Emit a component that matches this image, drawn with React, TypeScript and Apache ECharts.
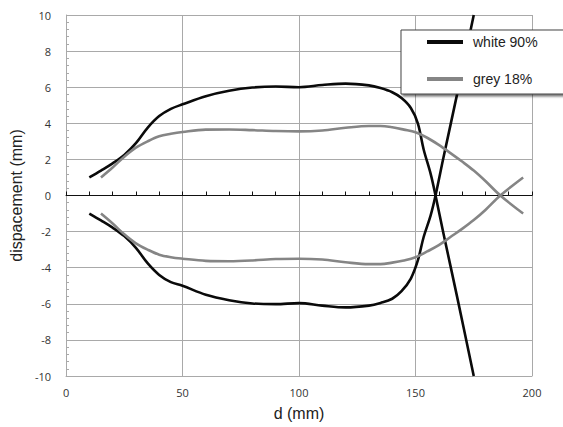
import React, { useEffect, useRef } from "react";
import * as echarts from "echarts";

const xTicks = [0, 50, 100, 150, 200];
const yRange = [-10, 10];

// white 90% — upper branch (crosses zero and continues down)
const whiteUpperX = [10, 15, 20, 25, 30, 35, 40, 45, 50, 60, 70, 80, 90, 100, 110, 120, 130, 135, 140, 144, 148, 151, 153.5, 156.5, 158.6, 162, 168, 175];
const whiteUpperY = [1.0, 1.38, 1.78, 2.25, 2.9, 3.75, 4.4, 4.8, 5.05, 5.5, 5.8, 5.98, 6.04, 6.0, 6.12, 6.2, 6.1, 5.95, 5.72, 5.4, 4.85, 4.0, 2.55, 1.2, 0, -2.1, -5.7, -10];
// white 90% — lower branch
const whiteLowerX = [10, 15, 20, 25, 30, 35, 40, 45, 50, 60, 70, 80, 90, 100, 110, 120, 130, 135, 140, 144, 148, 151, 153.5, 156.5, 158.6, 162, 168, 175];
const whiteLowerY = [-1.0, -1.38, -1.78, -2.25, -2.9, -3.75, -4.4, -4.8, -5.0, -5.5, -5.8, -5.98, -6.02, -5.96, -6.1, -6.2, -6.1, -5.95, -5.72, -5.3, -4.6, -3.6, -2.3, -1.1, 0, 2.1, 5.7, 10];
// grey 18% — upper branch
const greyUpperX = [15, 20, 25, 30, 35, 40, 45, 50, 60, 70, 80, 90, 100, 110, 120, 130, 135, 140, 145, 150, 155, 160, 165, 170, 175, 180, 186.4, 196.2];
const greyUpperY = [1.0, 1.55, 2.15, 2.65, 3.0, 3.28, 3.42, 3.52, 3.65, 3.66, 3.62, 3.57, 3.55, 3.6, 3.75, 3.85, 3.85, 3.78, 3.65, 3.5, 3.2, 2.8, 2.35, 1.88, 1.38, 0.8, 0, -1.0];
// grey 18% — lower branch
const greyLowerX = [15, 20, 25, 30, 35, 40, 45, 50, 60, 70, 80, 90, 100, 110, 120, 130, 135, 140, 145, 150, 155, 160, 165, 170, 175, 180, 186.4, 196.2];
const greyLowerY = [-1.0, -1.55, -2.15, -2.65, -3.0, -3.28, -3.42, -3.5, -3.62, -3.64, -3.6, -3.52, -3.5, -3.55, -3.7, -3.8, -3.8, -3.72, -3.6, -3.42, -3.1, -2.75, -2.3, -1.85, -1.36, -0.8, 0, 1.0];

const zip = (xs: number[], ys: number[]) => xs.map((x, i) => [x, ys[i]]);

export default function App() {
  const ref = useRef<HTMLDivElement>(null);
  useEffect(() => {
    if (!ref.current) return;
    const chart = echarts.init(ref.current, null, { renderer: "svg" });
    const gridColor = "#a9a9a9";
    const labelFont = { fontFamily: "Open Sans", fontSize: 11, color: "#333" };
    const lineBase = (name: string, data: number[][], color: string) => ({
      name,
      type: "line",
      data,
      xAxisIndex: 0,
      yAxisIndex: 0,
      smooth: 0.35,
      showSymbol: false,
      symbol: "none",
      lineStyle: { color, width: 2.6 },
      itemStyle: { color },
      z: 3,
    });
    chart.setOption({
      animation: false,
      backgroundColor: "#fff",
      grid: { left: 63, right: 31, top: 15, bottom: 51, containLabel: false },
      legend: {
        orient: "vertical",
        left: 401,
        top: 30,
        padding: [5, 40, 8, 26],
        itemGap: 23,
        itemWidth: 36,
        itemHeight: 4,
        icon: "rect",
        backgroundColor: "#fff",
        borderColor: "#444",
        borderWidth: 1,
        borderRadius: 0,
        shadowColor: "rgba(0,0,0,0.55)",
        shadowBlur: 2,
        shadowOffsetX: 2,
        shadowOffsetY: 2,
        textStyle: { fontFamily: "Liberation Sans", fontSize: 14, color: "#222", padding: [0, 0, 0, 5] },
        data: ["white 90%", "grey 18%"],
        z: 10,
      },
      xAxis: [
        {
          type: "value",
          min: xTicks[0],
          max: xTicks[xTicks.length - 1],
          interval: 50,
          position: "bottom",
          name: "d (mm)",
          nameLocation: "middle",
          nameGap: 29,
          nameTextStyle: { fontFamily: "Liberation Sans", fontSize: 16, color: "#222" },
          axisLine: { onZero: false, show: true, lineStyle: { color: gridColor, width: 1 } },
          axisTick: { show: false },
          axisLabel: { ...labelFont, margin: 11 },
          splitLine: { show: true, lineStyle: { color: gridColor, width: 1 } },
        },
        {
          type: "value",
          min: xTicks[0],
          max: xTicks[xTicks.length - 1],
          interval: 10,
          position: "bottom",
          axisLine: { onZero: true, show: true, lineStyle: { color: "#111", width: 1 } },
          axisTick: { show: true, inside: true, length: 4, lineStyle: { color: "#111" } },
          axisLabel: { show: false },
          splitLine: { show: false },
        },
      ],
      yAxis: {
        type: "value",
        min: yRange[0],
        max: yRange[1],
        interval: 2,
        name: "dispacement (mm)",
        nameLocation: "middle",
        nameGap: 35,
        nameTextStyle: { fontFamily: "Liberation Sans", fontSize: 16, color: "#222" },
        axisLine: { show: true, lineStyle: { color: gridColor, width: 1 } },
        axisTick: { show: false, inside: true },
        minorTick: { show: true, splitNumber: 5, length: 3, lineStyle: { color: gridColor } },
        axisLabel: { ...labelFont, margin: 15 },
        splitLine: { show: true, lineStyle: { color: gridColor, width: 1 } },
      },
      series: [
        lineBase("white 90%", zip(whiteUpperX, whiteUpperY), "#0a0a0a"),
        lineBase("white 90%", zip(whiteLowerX, whiteLowerY), "#0a0a0a"),
        lineBase("grey 18%", zip(greyUpperX, greyUpperY), "#858585"),
        lineBase("grey 18%", zip(greyLowerX, greyLowerY), "#858585"),
      ],
    });
    return () => chart.dispose();
  }, []);
  return (
    <div
      ref={ref}
      style={{ position: "fixed", left: 0, top: 0, width: 563, height: 427 }}
    />
  );
}
